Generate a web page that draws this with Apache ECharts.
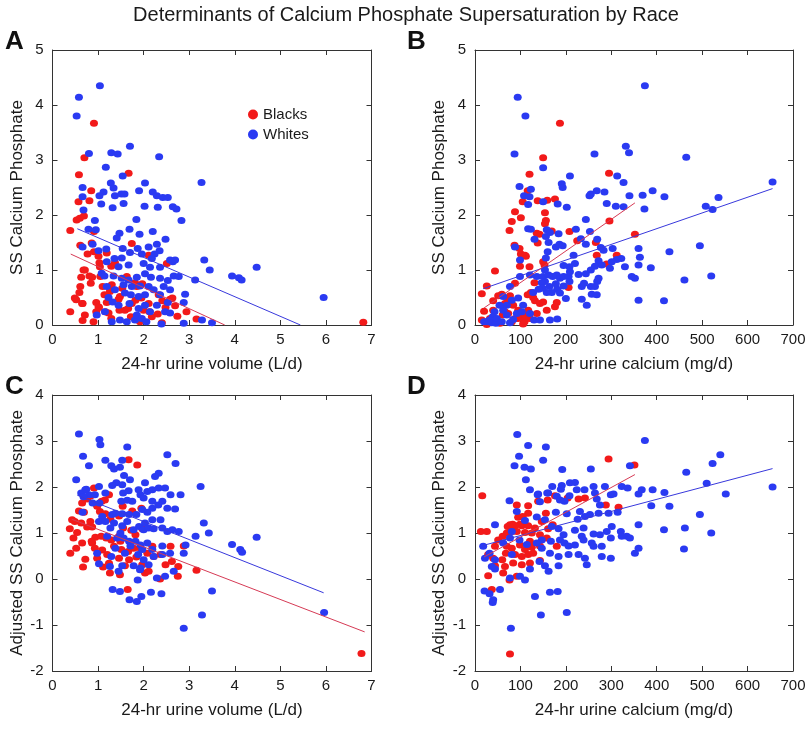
<!DOCTYPE html>
<html><head><meta charset="utf-8">
<script src="https://cdn.jsdelivr.net/npm/echarts@6/dist/echarts.min.js"></script>
<style>html,body{margin:0;padding:0;background:#fff}#c{width:812px;height:729px}</style>
</head><body><div id="c"></div>
<script>
// ---------- DATA ----------
const titleText = "Determinants of Calcium Phosphate Supersaturation by Race";
const volTicks = [0,1,2,3,4,5,6,7];
const caTicks = [0,100,200,300,400,500,600,700];
const ssTicks = [0,1,2,3,4,5];
const adjTicks = [-2,-1,0,1,2,3,4];

// Panel A: urine volume (L/d) vs SS CaP
const blacksA = [[0.91,3.67],[0.70,3.04],[1.67,2.76],[0.58,2.73],[0.85,2.44],[0.81,2.26],[0.57,2.24],[0.53,1.91],[0.60,1.94],[0.69,1.98],[0.39,1.72],
[0.91,1.70],[0.86,1.49],[0.61,1.45],[0.77,1.29],[1.01,1.25],[1.19,1.31],[1.03,1.13],[1.04,1.06],[1.29,1.07],[1.37,1.13],[1.74,1.48],[2.11,1.27],[2.51,1.12],
[0.81,0.89],[0.68,1.00],[1.10,0.70],[1.26,0.61],[0.61,0.70],[0.59,0.59],[0.49,0.49],[0.66,0.39],[0.39,0.24],[0.71,0.18],[0.66,0.08],[0.90,0.06],[0.96,0.41],
[1.01,0.33],[0.96,0.24],[1.19,0.41],[1.23,0.22],[1.47,0.27],[1.59,0.27],[1.74,0.39],[1.85,0.70],[1.95,0.49],[2.13,0.24],[2.18,0.15],[2.11,0.39],[2.31,0.20],
[2.40,0.04],[2.58,0.47],[2.69,0.35],[2.74,0.16],[2.94,0.24],[3.16,0.11],[1.92,0.06],[1.72,0.15],[1.48,0.52],[1.30,0.73],[1.63,0.88],[1.81,0.77],[1.05,0.88],
[1.14,0.55],[0.84,0.76],[2.33,0.55],[6.82,0.05],[0.91,1.33],[1.02,0.32],[1.16,0.24],[1.45,0.47],[1.53,0.67],[1.31,0.65],[1.66,0.30],[1.82,0.45],[1.97,0.75],
[2.00,0.27],[2.41,0.44],[2.48,0.32],[2.63,0.49],[0.52,0.46],[0.65,0.39],[0.71,1.00],[0.63,0.87],[0.87,0.87],[1.29,0.12]];
const whitesA = [[1.04,4.35],[0.58,4.14],[0.53,3.80],[0.80,3.12],[1.29,3.13],[1.43,3.11],[1.70,3.25],[2.34,3.06],[1.17,2.87],[1.54,2.71],[3.27,2.59],
[1.28,2.58],[1.34,2.49],[1.12,2.42],[1.37,2.35],[1.51,2.38],[1.58,2.38],[1.90,2.44],[2.03,2.58],[2.20,2.42],[2.29,2.35],[2.42,2.32],[2.53,2.32],[2.31,2.14],
[2.64,2.15],[2.72,2.11],[2.83,1.90],[1.84,1.92],[2.02,2.16],[1.32,2.13],[1.56,2.21],[1.07,2.20],[1.03,2.35],[0.66,2.50],[0.66,2.33],[0.68,2.09],[0.93,1.90],
[0.79,1.74],[0.95,1.73],[1.47,1.67],[1.69,1.74],[1.91,1.65],[2.20,1.70],[2.48,1.56],[1.41,1.58],[0.66,1.42],[0.88,1.47],[1.18,1.38],[1.54,1.39],[1.87,1.39],
[2.11,1.42],[2.29,1.47],[2.35,1.35],[2.24,1.29],[2.18,1.21],[1.96,1.29],[1.70,1.32],[1.52,1.22],[1.36,1.21],[1.01,1.35],[2.58,1.18],[2.64,1.15],[2.69,1.18],
[3.33,1.18],[3.45,1.00],[3.13,0.82],[3.94,0.89],[4.09,0.86],[4.15,0.82],[4.48,1.05],[2.36,1.05],[2.14,1.05],[2.00,1.12],[1.67,1.09],[1.45,1.06],[1.19,1.15],
[1.08,0.94],[1.14,0.89],[1.34,0.89],[1.52,0.85],[1.67,0.82],[1.85,0.87],[2.03,0.93],[2.16,0.87],[2.36,0.85],[2.53,0.81],[2.66,0.89],[2.77,0.88],[1.56,0.73],
[1.74,0.70],[1.92,0.71],[2.11,0.70],[2.22,0.64],[2.44,0.70],[2.58,0.64],[1.37,0.64],[1.19,0.70],[1.59,0.58],[1.72,0.55],[1.89,0.52],[2.03,0.55],[2.36,0.55],
[2.53,0.41],[2.91,0.56],[2.88,0.41],[1.23,0.50],[1.32,0.42],[1.45,0.36],[1.69,0.39],[1.89,0.30],[2.03,0.36],[2.14,0.24],[2.29,0.36],[2.47,0.24],[2.58,0.22],
[0.97,0.18],[1.15,0.24],[1.30,0.06],[1.48,0.09],[1.63,0.06],[1.81,0.09],[1.85,0.18],[1.96,0.12],[2.06,0.06],[2.39,0.02],[2.88,0.03],[3.28,0.09],[3.50,0.04],[5.95,0.50]];
const fitBlacksA = [[0.40,1.29],[3.78,0]];
const fitWhitesA = [[0.545,1.75],[5.44,0]];

// Panel B: urine calcium (mg/d) vs SS CaP
const blacksB = [[187,3.67],[150,3.04],[295,2.76],[120,2.74],[116,2.44],[105,2.24],[138,2.26],[159,2.27],[176,2.29],[88,2.06],[101,1.95],[81,1.88],[76,1.72],
[87,1.45],[98,1.39],[101,1.29],[112,1.25],[154,2.04],[156,1.90],[142,1.65],[138,1.49],[150,1.15],[153,1.09],[169,1.71],[208,1.70],[225,1.53],[266,1.50],[296,1.89],
[352,1.65],[268,1.27],[312,1.27],[290,1.11],[99,1.07],[120,1.06],[44,0.98],[26,0.71],[88,0.76],[131,0.77],[206,0.68],[180,0.41],[15,0.57],[51,0.53],[40,0.44],
[20,0.25],[66,0.39],[77,0.53],[84,0.36],[95,0.27],[106,0.17],[117,0.27],[123,0.59],[132,0.44],[109,0.06],[95,0.12],[81,0.06],[61,0.18],[40,0.27],[46,0.09],
[15,0.09],[26,0.01],[73,0.21],[121,0.12],[143,0.39],[66,0.24],[55,0.03],[128,0.50],[150,0.42],[176,0.33],[158,0.27],[88,0.12],[112,0.12],[136,0.21],[106,0.02],
[33,0.12],[59,0.56],[72,0.43],[116,0.55],[110,1.27],[136,1.67],[154,1.84]];
const whitesB = [[94,4.14],[111,3.80],[374,4.35],[87,3.11],[150,2.86],[332,3.25],[339,3.13],[263,3.11],[465,3.05],[313,2.71],[209,2.71],[98,2.52],[191,2.57],
[193,2.50],[123,2.47],[108,2.35],[120,2.33],[117,2.19],[150,2.24],[182,2.20],[202,2.14],[252,2.35],[255,2.38],[268,2.44],[285,2.42],[290,2.21],[310,2.16],
[327,2.59],[327,2.15],[340,2.35],[369,2.36],[373,2.11],[391,2.44],[417,2.33],[508,2.16],[523,2.10],[536,2.32],[655,2.60],
[117,1.75],[123,1.74],[158,1.73],[165,1.68],[184,1.66],[178,1.42],[186,1.47],[193,1.44],[222,1.74],[233,1.57],[244,1.47],[253,1.70],[244,1.92],[269,1.56],
[277,1.41],[283,1.36],[303,1.39],[322,1.21],[330,1.06],[312,1.19],[301,1.15],[297,1.03],[279,1.09],[272,1.17],[264,1.07],[255,1.00],[360,1.39],[363,1.23],
[360,1.09],[387,1.04],[428,1.33],[495,1.44],[345,0.88],[352,0.85],[360,0.45],[416,0.44],[461,0.82],[520,0.89],[88,1.42],[121,0.91],[99,0.88],[136,0.88],
[150,0.88],[154,0.79],[162,0.91],[171,0.88],[180,0.91],[187,0.85],[195,0.88],[206,0.88],[209,0.97],[228,0.92],[244,0.93],[208,0.79],[195,0.71],[181,0.65],
[169,0.59],[158,0.59],[147,0.77],[149,0.67],[140,0.65],[164,0.70],[178,0.75],[187,0.58],[200,0.48],[235,0.70],[240,0.76],[255,0.70],[257,0.56],[246,0.36],
[235,0.47],[264,0.70],[269,0.79],[268,0.55],[272,0.85],[208,1.06],[195,1.08],[77,0.70],[70,0.36],[62,0.27],[54,0.36],[81,0.45],[92,0.21],[103,0.24],[121,0.21],
[106,0.36],[43,0.24],[39,0.15],[32,0.09],[26,0.06],[37,0.04],[46,0.03],[20,0.06],[48,0.12],[59,0.06],[77,0.04],[84,0.10],[130,0.09],[143,0.09],[165,0.09],
[181,0.11],[70,0.18],[62,0.52],[95,0.49],[128,0.59],[99,1.18],[154,1.00],[156,1.22],[160,1.33],[162,1.50],[156,1.61],[131,1.56],[217,1.27],[220,1.12]];
const fitBlacksB = [[20,0.31],[352,2.22]];
const fitWhitesB = [[18,0.66],[655,2.48]];

// Panel C: urine volume (L/d) vs adjusted SS CaP
const blacksC = [[1.67,2.59],[1.86,2.48],[0.91,1.98],[0.83,1.80],[0.58,1.48],[0.69,1.45],[0.49,1.25],[0.43,1.29],[0.63,1.22],[0.76,1.13],[0.87,1.13],[0.83,1.25],
[1.04,1.47],[1.15,1.72],[1.24,1.83],[1.16,1.42],[1.27,1.30],[1.46,1.37],[1.75,1.48],[1.55,1.11],[1.73,1.06],[1.82,0.96],[1.97,1.09],[0.38,1.09],[0.54,1.01],
[0.94,0.91],[1.07,0.93],[1.18,0.89],[1.29,0.85],[1.46,0.93],[1.49,0.82],[1.35,0.71],[1.51,0.64],[1.66,0.60],[1.78,0.67],[1.93,0.67],[2.08,0.56],[2.19,0.71],
[2.37,0.53],[2.59,0.71],[2.88,0.72],[0.39,0.56],[0.52,0.67],[0.65,0.78],[0.87,0.78],[0.93,0.67],[1.09,0.63],[1.20,0.53],[0.72,0.43],[0.98,0.45],[1.24,0.34],
[1.46,0.45],[1.68,0.42],[1.84,0.48],[0.67,0.26],[1.11,0.26],[1.59,0.29],[1.97,0.31],[2.48,0.31],[2.76,0.27],[0.76,1.74],[0.65,1.65],[0.98,1.58],
[2.03,0.13],[2.11,0.17],[2.36,0.00],[2.75,0.06],[3.16,0.19],[1.65,-0.23],[1.26,0.13],[1.48,0.09],[6.78,-1.62],[1.54,1.58],[1.95,1.54],[1.08,1.69],
[0.46,0.89],[0.86,0.82],[2.62,0.38],[2.22,0.49]];
const whitesC = [[0.58,3.15],[1.03,3.03],[1.05,2.92],[1.64,2.87],[0.67,2.67],[0.80,2.46],[1.16,2.58],[1.29,2.46],[1.35,2.39],[1.48,2.43],[1.53,2.58],[2.52,2.70],
[2.70,2.51],[1.57,2.25],[1.70,2.16],[0.52,2.16],[1.40,2.09],[1.31,2.03],[1.53,2.05],[2.33,2.30],[2.25,2.23],[1.02,2.01],[0.72,1.94],[0.63,1.87],[0.80,1.83],
[1.16,1.87],[1.55,1.87],[1.67,1.92],[2.03,2.09],[1.89,1.94],[1.93,1.83],[2.08,1.90],[2.19,1.94],[2.33,1.98],[2.47,1.98],[2.59,1.83],[2.81,1.83],[3.25,2.01],
[1.51,1.69],[1.64,1.71],[1.75,1.69],[2.00,1.76],[2.19,1.69],[2.32,1.61],[2.41,1.69],[2.52,1.54],[2.69,1.52],[2.19,1.54],[2.08,1.45],[1.97,1.51],[1.84,1.40],
[1.68,1.40],[1.53,1.42],[1.38,1.43],[1.31,1.40],[1.09,1.36],[1.02,1.25],[1.16,1.25],[1.35,1.22],[1.53,1.16],[1.64,1.25],[1.78,1.07],[1.90,1.14],[2.03,1.22],
[2.19,1.29],[2.37,1.29],[2.00,1.07],[2.11,1.11],[2.22,1.09],[2.41,1.11],[2.52,1.03],[2.63,1.07],[2.77,1.03],[3.14,0.93],[3.32,1.22],[3.43,1.00],[1.49,1.00],
[1.56,0.89],[1.68,0.82],[1.82,0.82],[1.93,0.74],[2.08,0.78],[2.19,0.64],[2.41,0.72],[1.97,0.64],[1.71,0.72],[1.42,0.89],[1.27,1.11],[1.20,0.93],[1.29,0.49],
[1.38,0.67],[1.59,0.56],[1.88,0.53],[2.00,0.42],[2.11,0.31],[2.22,0.49],[2.41,0.53],[2.58,0.56],[2.88,0.56],[2.92,0.74],[0.98,0.56],[1.02,0.33],[1.26,0.27],
[1.53,0.29],[1.78,0.29],[1.93,0.24],[0.66,1.45],[0.68,1.79],[0.88,1.65],[0.74,1.95],[0.93,1.83],[1.03,1.65],
[1.32,-0.23],[1.48,-0.27],[1.69,-0.45],[1.85,-0.49],[1.95,-0.38],[2.16,-0.29],[2.39,-0.32],[1.87,-0.02],[1.92,0.20],[2.29,0.02],[2.47,0.06],[2.66,0.17],
[1.45,0.17],[3.50,-0.26],[3.28,-0.78],[2.88,-1.07],[5.96,-0.73],[3.94,0.75],[4.12,0.64],[4.16,0.58],[4.48,0.91]];
const fitBlacksC = [[0.42,1.30],[6.85,-1.15]];
const fitWhitesC = [[0.545,1.82],[5.95,-0.30]];

// Panel D: urine calcium (mg/d) vs adjusted SS CaP
const blacksD = [[294,2.61],[351,2.48],[16,1.81],[92,1.61],[117,1.59],[139,1.69],[160,1.72],[176,1.81],[204,1.76],[228,1.74],[242,1.76],[288,1.61],[316,1.56],
[156,1.43],[117,1.43],[95,1.34],[147,1.25],[171,1.18],[77,1.18],[88,1.16],[103,1.16],[117,1.16],[132,1.11],[161,1.09],[13,1.03],[26,1.03],[51,0.85],[61,0.93],
[70,1.00],[81,1.03],[92,1.03],[110,1.01],[125,1.00],[143,0.96],[158,0.89],[44,0.71],[70,0.71],[81,0.67],[99,0.74],[110,0.64],[121,0.82],[125,0.69],[143,0.72],
[68,0.56],[88,0.53],[103,0.49],[117,0.53],[128,0.56],[29,0.53],[40,0.45],[60,0.42],[84,0.35],[103,0.31],[121,0.35],[143,0.40],[180,0.71],[44,0.29],[66,0.27],
[77,-1.63],[37,-0.23],[29,0.07],[62,0.13],[76,-0.02],[92,0.06],[105,1.36],[72,1.14],[83,1.19],[99,1.19]];
const whitesD = [[93,3.14],[374,3.01],[465,2.32],[523,2.51],[540,2.70],[391,1.94],[417,1.88],[388,1.59],[428,1.58],[495,1.40],[510,2.08],[552,1.85],[655,2.00],
[416,1.07],[462,1.11],[520,1.00],[460,0.65],[162,0.17],[121,0.22],[110,-0.02],[99,0.06],[77,0.02],[44,0.22],[21,-0.26],[32,-0.32],[40,-0.45],[39,-0.51],
[55,-0.23],[132,-0.38],[165,-0.29],[182,-0.27],[145,-0.78],[202,-0.73],[79,-1.07],
[117,2.90],[156,2.87],[97,2.67],[87,2.46],[109,2.43],[123,2.39],[150,2.58],[192,2.38],[255,2.39],[341,2.46],[112,2.16],[121,1.94],[170,2.01],[191,2.03],
[209,2.09],[220,2.10],[189,1.95],[139,1.85],[161,1.87],[180,1.80],[187,1.72],[197,1.69],[208,1.81],[224,1.94],[241,1.94],[261,2.01],[264,1.87],[268,1.74],
[275,1.61],[286,2.01],[299,1.83],[305,1.85],[323,2.01],[336,1.98],[360,1.85],[367,1.94],[76,1.70],[92,1.47],[178,1.45],[202,1.42],[226,1.30],[242,1.36],
[253,1.40],[272,1.43],[294,1.43],[314,1.45],[136,1.35],[154,1.29],[44,1.18],[110,1.27],[169,1.14],[184,1.09],[195,0.96],[220,1.06],[239,1.11],[235,0.93],
[261,0.98],[275,0.96],[290,1.03],[301,1.14],[321,1.03],[334,0.93],[360,1.18],[341,0.89],[147,0.85],[167,0.82],[187,0.85],[197,0.78],[206,0.72],[220,0.74],
[239,0.85],[257,0.78],[279,0.71],[299,0.89],[323,0.93],[18,0.71],[32,0.56],[44,0.42],[62,0.78],[77,0.89],[81,1.03],[147,0.67],[165,0.56],[184,0.49],[206,0.53],
[228,0.53],[242,0.45],[261,0.71],[279,0.49],[299,0.45],[360,0.67],[246,0.31],[154,0.29],[184,0.29],[22,0.45],[231,1.47],[138,1.83],[143,1.68],[159,1.87],
[98,0.85],[114,0.75],[136,0.78],[142,0.38],[81,0.53],[37,0.27],[352,0.56]];
const fitBlacksD = [[20,0.48],[352,2.27]];
const fitWhitesD = [[18,0.73],[655,2.40]];

// ---------- STYLE / LAYOUT ----------
const FONT = '"Liberation Sans", Arial, Helvetica, sans-serif';
const RED = '#f21a1a', BLUE = '#2a3af2', RED_LINE = '#d63a55', BLUE_LINE = '#3838dc';
const TXT = '#1a1a1a', AX = '#333';
const grids = [
  {left: 52.5, top: 50, width: 319, height: 275},
  {left: 475, top: 50, width: 318, height: 275},
  {left: 52.5, top: 395, width: 319, height: 276},
  {left: 475, top: 395, width: 318, height: 276}
];
const panels = [
  {xt: volTicks, yt: ssTicks, xn: '24-hr urine volume (L/d)', yn: 'SS Calcium Phosphate', b: blacksA, w: whitesA, fb: fitBlacksA, fw: fitWhitesA},
  {xt: caTicks, yt: ssTicks, xn: '24-hr urine calcium (mg/d)', yn: 'SS Calcium Phosphate', b: blacksB, w: whitesB, fb: fitBlacksB, fw: fitWhitesB},
  {xt: volTicks, yt: adjTicks, xn: '24-hr urine volume (L/d)', yn: 'Adjusted SS Calcium Phosphate', b: blacksC, w: whitesC, fb: fitBlacksC, fw: fitWhitesC},
  {xt: caTicks, yt: adjTicks, xn: '24-hr urine calcium (mg/d)', yn: 'Adjusted SS Calcium Phosphate', b: blacksD, w: whitesD, fb: fitBlacksD, fw: fitWhitesD}
];

const xAxis = [], yAxis = [], series = [];
panels.forEach((p, i) => {
  const xmin = p.xt[0], xmax = p.xt[p.xt.length-1], xi = p.xt[1]-p.xt[0];
  const ymin = p.yt[0], ymax = p.yt[p.yt.length-1], yi = p.yt[1]-p.yt[0];
  const line = {show: true, onZero: false, lineStyle: {color: AX, width: 1}};
  const tick = {show: true, inside: true, length: 5, lineStyle: {color: AX, width: 1}};
  xAxis.push({type: 'value', gridIndex: i, position: 'bottom', min: xmin, max: xmax, interval: xi,
    axisLine: line, axisTick: tick, splitLine: {show: false},
    axisLabel: {show: true, margin: 7, fontFamily: FONT, fontSize: 15, color: TXT},
    name: p.xn, nameLocation: 'middle', nameGap: 31, nameTextStyle: {fontFamily: FONT, fontSize: 17, color: TXT}});
  xAxis.push({type: 'value', gridIndex: i, position: 'top', min: xmin, max: xmax, interval: xi,
    axisLine: line, axisTick: tick, splitLine: {show: false}, axisLabel: {show: false}});
  yAxis.push({type: 'value', gridIndex: i, position: 'left', min: ymin, max: ymax, interval: yi,
    axisLine: line, axisTick: tick, splitLine: {show: false},
    axisLabel: {show: true, margin: 9, fontFamily: FONT, fontSize: 15, color: TXT},
    name: p.yn, nameLocation: 'middle', nameGap: 27, nameTextStyle: {fontFamily: FONT, fontSize: 17, color: TXT}});
  yAxis.push({type: 'value', gridIndex: i, position: 'right', min: ymin, max: ymax, interval: yi,
    axisLine: line, axisTick: tick, splitLine: {show: false}, axisLabel: {show: false}});
  const xa = i*2, ya = i*2;
  series.push({name: 'Blacks', type: 'scatter', xAxisIndex: xa, yAxisIndex: ya, data: p.b,
    symbol: 'circle', symbolSize: [8, 7], itemStyle: {color: RED, opacity: 1}, z: 2, silent: true});
  series.push({name: 'Whites', type: 'scatter', xAxisIndex: xa, yAxisIndex: ya, data: p.w,
    symbol: 'circle', symbolSize: [8, 7], itemStyle: {color: BLUE, opacity: 1}, z: 3, silent: true});
  series.push({name: 'fitW' + i, type: 'line', xAxisIndex: xa, yAxisIndex: ya, data: p.fw,
    symbol: 'none', lineStyle: {color: BLUE_LINE, width: 1}, z: 4, silent: true});
  series.push({name: 'fitB' + i, type: 'line', xAxisIndex: xa, yAxisIndex: ya, data: p.fb,
    symbol: 'none', lineStyle: {color: RED_LINE, width: 1}, z: 4, silent: true});
});

const letters = [['A', 5, 29], ['B', 407, 29], ['C', 5, 374], ['D', 407, 374]];
const chart = echarts.init(document.getElementById('c'), null, {renderer: 'canvas'});
chart.setOption({
  animation: false,
  backgroundColor: '#fff',
  title: {text: titleText, left: 'center', top: 0,
    textStyle: {fontFamily: FONT, fontSize: 20, fontWeight: 'normal', color: TXT}},
  legend: {data: ['Blacks', 'Whites'], left: 243, top: 102, orient: 'vertical', itemWidth: 10, itemHeight: 10,
    itemGap: 5, icon: 'circle', textStyle: {fontFamily: FONT, fontSize: 15, color: TXT}, selectedMode: false},
  grid: grids,
  xAxis: xAxis,
  yAxis: yAxis,
  series: series,
  graphic: letters.map(l => ({type: 'text', left: l[1], top: l[2],
    style: {text: l[0], font: 'bold 26px ' + FONT, fill: '#111'}}))
});
</script></body></html>
